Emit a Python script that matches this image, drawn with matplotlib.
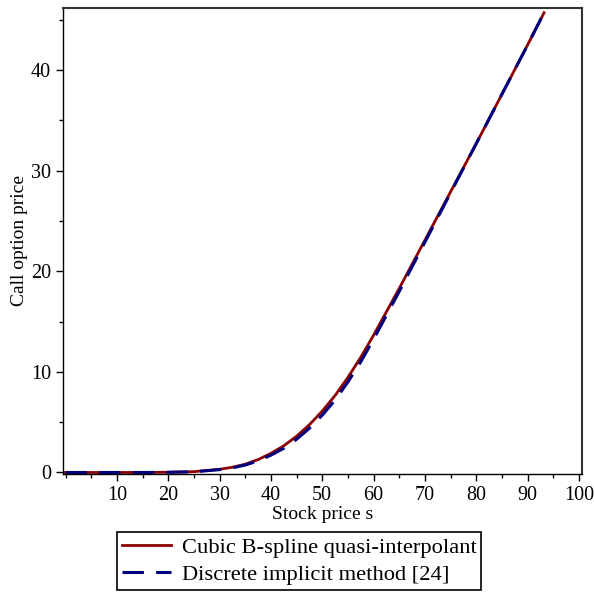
import numpy as np
import matplotlib
matplotlib.use('Agg')
import matplotlib.pyplot as plt
from matplotlib.ticker import MultipleLocator

plt.rcParams['font.family'] = ['Liberation Serif', 'DejaVu Serif']

# Stock price grid and call option prices
stock = [0, 5, 10, 15, 20, 25, 30, 32.5, 35, 37.5, 40, 42.5, 45, 47.5, 50,
         52.5, 55, 57.5, 60, 65, 70, 75, 80, 85, 90, 93.2]
spline_price = [0, 0, 0, 0, 0.02, 0.08, 0.32, 0.52, 0.82, 1.28, 1.9, 2.65, 3.6, 4.75, 6.1,
                7.65, 9.45, 11.45, 13.65, 18.3, 23.1, 27.9, 32.7, 37.6, 42.5, 45.7]
implicit_price = [0, 0, 0, 0, 0.02, 0.07, 0.28, 0.46, 0.74, 1.15, 1.72, 2.4, 3.3, 4.4, 5.7,
                  7.2, 9.0, 11.0, 13.25, 18.0, 22.9, 27.8, 32.7, 37.6, 42.5, 45.7]

x_ticks = [10, 20, 30, 40, 50, 60, 70, 80, 90, 100]
y_ticks = [0, 10, 20, 30, 40]

fig = plt.figure(figsize=(5.94, 5.92), dpi=100)
ax = fig.add_axes([0.106, 0.199, 0.873, 0.788])

ax.plot(stock, spline_price, color='#8b0000', lw=2, label='Cubic B-spline quasi-interpolant')
ax.plot(stock, implicit_price, color='#00007f', lw=2.2, dashes=(7, 4),
        label='Discrete implicit method [24]')

ax.set_xlim(-0.5, 100.5)
ax.set_ylim(-0.17, 46.2)
ax.set_xticks(x_ticks)
ax.set_yticks(y_ticks)
ax.xaxis.set_minor_locator(MultipleLocator(5))
ax.yaxis.set_minor_locator(MultipleLocator(5))
ax.tick_params(which='major', direction='out', length=5, width=1, labelsize=14.5, colors='black')
ax.tick_params(which='minor', direction='out', length=3, width=1)

for side in ['top', 'right']:
    ax.spines[side].set_color('#333333')
    ax.spines[side].set_linewidth(1.5)
for side in ['left', 'bottom']:
    ax.spines[side].set_color('black')
    ax.spines[side].set_linewidth(1)

ax.set_xlabel('Stock price s', fontsize=14, labelpad=1)
ax.set_ylabel('Call option price', fontsize=14, labelpad=2)

leg = fig.legend(loc='lower left', bbox_to_anchor=(0.197, 0.003), fontsize=16.2,
                 handlelength=2.2, handletextpad=0.45, borderpad=0.22,
                 labelspacing=0.3, borderaxespad=0,
                 fancybox=False, edgecolor='black', framealpha=1)
leg.get_frame().set_linewidth(1.2)

fig.savefig('out.png', dpi=100)
